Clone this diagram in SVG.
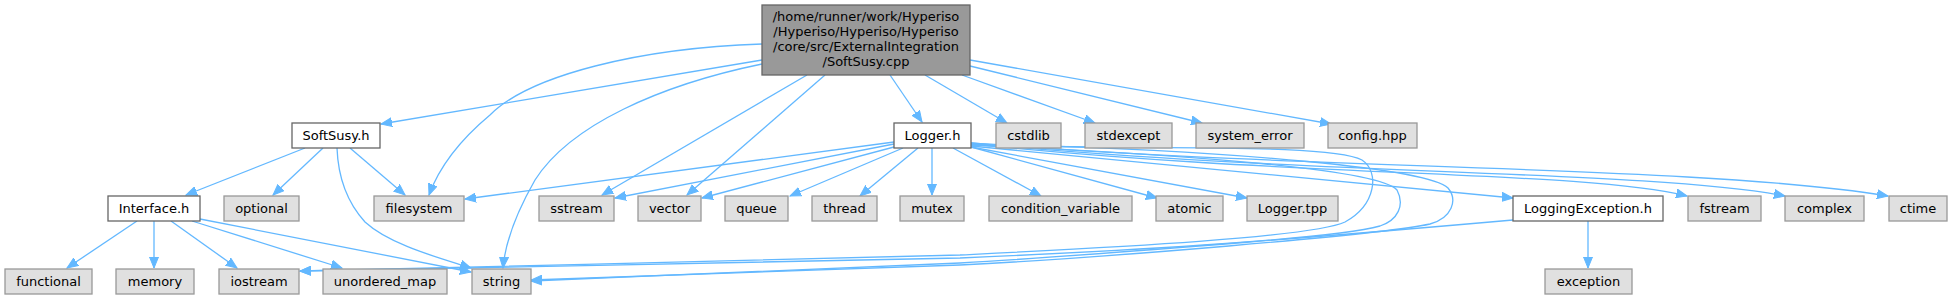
<svg xmlns="http://www.w3.org/2000/svg" width="1953" height="300" viewBox="0 0 1953 300">
<style>
.e{fill:none;stroke:#63b8ff;stroke-width:1.3;marker-end:url(#arr)}
.r{fill:#999999;stroke:#666666;stroke-width:1.3}
.w{fill:#ffffff;stroke:#666666;stroke-width:1.3}
.g{fill:#e0e0e0;stroke:#999999;stroke-width:1.3}
text{font-family:"DejaVu Sans","Noto Sans",sans-serif;font-size:13px;text-anchor:middle;fill:#000000}
</style>
<defs>
<marker id="arr" markerUnits="userSpaceOnUse" markerWidth="12" markerHeight="10" refX="11" refY="5" orient="auto">
<path d="M0,0.5 L11,5 L0,9.5 z" fill="#63b8ff" stroke="#63b8ff" stroke-width="1"/>
</marker>
</defs>
<rect width="1953" height="300" fill="#ffffff"/>
<g id="edges">
<path class="e" d="M762,60 L381,124"/>
<path class="e" d="M762,44 C 640,48 530,75 490,115 C 460,140 440,165 429,195"/>
<path class="e" d="M762,64 C 660,85 570,125 535,180 C 515,215 505,245 503,268"/>
<path class="e" d="M807,75 L602,195"/>
<path class="e" d="M825,75 L687,195"/>
<path class="e" d="M890,75 L922,122"/>
<path class="e" d="M925,75 L1007,123"/>
<path class="e" d="M962,75 L1095,123"/>
<path class="e" d="M970,66 L1202,123"/>
<path class="e" d="M970,60 L1331,124"/>
<path class="e" d="M305,148 L186,195"/>
<path class="e" d="M323,148 L273,195"/>
<path class="e" d="M350,148 L405,195"/>
<path class="e" d="M337,148 C 338,175 345,200 365,222 C 390,245 440,258 471,268"/>
<path class="e" d="M137,221 L67,268"/>
<path class="e" d="M154,221 L154,268"/>
<path class="e" d="M171,221 L237,268"/>
<path class="e" d="M192,221 L342,268"/>
<path class="e" d="M200,219 L471,272"/>
<path class="e" d="M894,142 L465,199"/>
<path class="e" d="M894,144 L615,198"/>
<path class="e" d="M894,147 L702,198"/>
<path class="e" d="M903,148 L790,196"/>
<path class="e" d="M918,148 L860,196"/>
<path class="e" d="M932,148 L932,195"/>
<path class="e" d="M953,148 L1041,196"/>
<path class="e" d="M971,147 L1157,198"/>
<path class="e" d="M971,147 L1247,198"/>
<path class="e" d="M971,146 L1513,198"/>
<path class="e" d="M971,144 C 1300,178 1580,170 1687,196"/>
<path class="e" d="M971,143 C 1300,175 1650,170 1785,196"/>
<path class="e" d="M971,143 C 1300,170 1700,165 1888,196"/>
<path class="e" d="M971,145 C 1150,150 1330,143 1362,160 C 1380,172 1376,205 1345,222 C 1310,238 1100,248 960,255 C 800,260 500,266 300,271"/>
<path class="e" d="M971,145 C 1200,155 1380,170 1397,190 C 1405,205 1398,220 1380,226 C 1330,240 1100,252 960,258 C 800,262 500,267 300,271"/>
<path class="e" d="M971,144 C 1250,150 1430,170 1448,188 C 1458,200 1452,218 1430,224 C 1380,235 1100,258 960,265 C 800,270 650,276 531,280"/>
<path class="e" d="M1513,220 C 1400,230 1100,255 960,263 C 800,270 650,277 531,281"/>
<path class="e" d="M1588,221 L1588,268"/>
</g>
<g id="root"><rect class="r" x="762" y="5" width="208" height="70"/>
<text x="866" y="20.5">/home/runner/work/Hyperiso</text>
<text x="866" y="35.5">/Hyperiso/Hyperiso/Hyperiso</text>
<text x="866" y="50.5">/core/src/ExternalIntegration</text>
<text x="866" y="65.5">/SoftSusy.cpp</text></g>
<g id="SoftSusy_h"><rect class="w" x="292" y="123" width="88" height="25"/><text x="336" y="139.5">SoftSusy.h</text></g>
<g id="Logger_h"><rect class="w" x="894" y="123" width="77" height="25"/><text x="932.5" y="139.5">Logger.h</text></g>
<g id="cstdlib"><rect class="g" x="996" y="123" width="65" height="25"/><text x="1028.5" y="139.5">cstdlib</text></g>
<g id="stdexcept"><rect class="g" x="1085" y="123" width="87" height="25"/><text x="1128.5" y="139.5">stdexcept</text></g>
<g id="system_error"><rect class="g" x="1196" y="123" width="108" height="25"/><text x="1250" y="139.5">system_error</text></g>
<g id="config_hpp"><rect class="g" x="1328" y="123" width="89" height="25"/><text x="1372.5" y="139.5">config.hpp</text></g>
<g id="Interface_h"><rect class="w" x="108" y="196" width="92" height="25"/><text x="154" y="212.5">Interface.h</text></g>
<g id="optional"><rect class="g" x="224" y="196" width="75" height="25"/><text x="261.5" y="212.5">optional</text></g>
<g id="filesystem"><rect class="g" x="374" y="196" width="90" height="25"/><text x="419" y="212.5">filesystem</text></g>
<g id="sstream"><rect class="g" x="539" y="196" width="75" height="25"/><text x="576.5" y="212.5">sstream</text></g>
<g id="vector"><rect class="g" x="638" y="196" width="63" height="25"/><text x="669.5" y="212.5">vector</text></g>
<g id="queue"><rect class="g" x="725" y="196" width="63" height="25"/><text x="756.5" y="212.5">queue</text></g>
<g id="thread"><rect class="g" x="812" y="196" width="65" height="25"/><text x="844.5" y="212.5">thread</text></g>
<g id="mutex"><rect class="g" x="900" y="196" width="64" height="25"/><text x="932" y="212.5">mutex</text></g>
<g id="condition_variable"><rect class="g" x="989" y="196" width="143" height="25"/><text x="1060.5" y="212.5">condition_variable</text></g>
<g id="atomic"><rect class="g" x="1156" y="196" width="67" height="25"/><text x="1189.5" y="212.5">atomic</text></g>
<g id="Logger_tpp"><rect class="g" x="1247" y="196" width="91" height="25"/><text x="1292.5" y="212.5">Logger.tpp</text></g>
<g id="LoggingException_h"><rect class="w" x="1513" y="196" width="150" height="25"/><text x="1588" y="212.5">LoggingException.h</text></g>
<g id="fstream"><rect class="g" x="1688" y="196" width="73" height="25"/><text x="1724.5" y="212.5">fstream</text></g>
<g id="complex"><rect class="g" x="1785" y="196" width="79" height="25"/><text x="1824.5" y="212.5">complex</text></g>
<g id="ctime"><rect class="g" x="1889" y="196" width="58" height="25"/><text x="1918" y="212.5">ctime</text></g>
<g id="functional"><rect class="g" x="5" y="269" width="87" height="25"/><text x="48.5" y="285.5">functional</text></g>
<g id="memory"><rect class="g" x="116" y="269" width="78" height="25"/><text x="155" y="285.5">memory</text></g>
<g id="iostream"><rect class="g" x="219" y="269" width="80" height="25"/><text x="259" y="285.5">iostream</text></g>
<g id="unordered_map"><rect class="g" x="323" y="269" width="124" height="25"/><text x="385" y="285.5">unordered_map</text></g>
<g id="string"><rect class="g" x="472" y="269" width="59" height="25"/><text x="501.5" y="285.5">string</text></g>
<g id="exception"><rect class="g" x="1545" y="269" width="87" height="25"/><text x="1588.5" y="285.5">exception</text></g>
</svg>
